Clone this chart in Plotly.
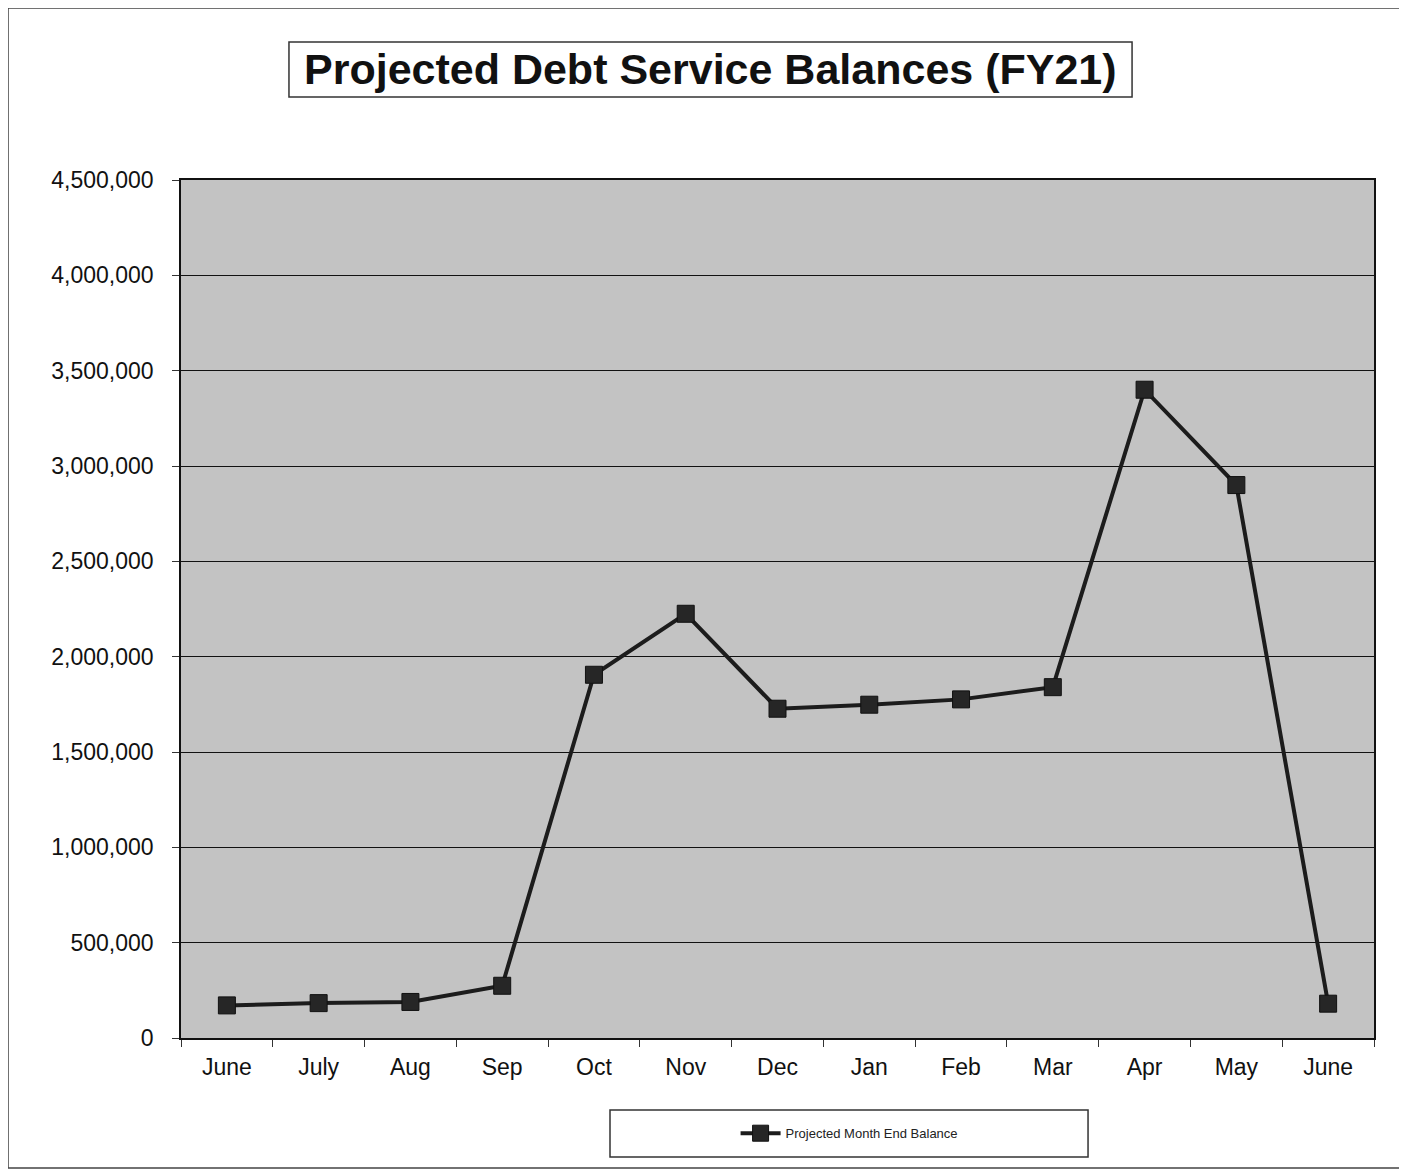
import plotly.graph_objects as go

months = ["June", "July", "Aug", "Sep", "Oct", "Nov", "Dec", "Jan", "Feb", "Mar", "Apr", "May", "June"]
balances = [171000, 183000, 189000, 274000, 1905000, 2225000, 1727000, 1748000, 1776000, 1840000, 3400000, 2900000, 180000]
y_ticks = [0, 500000, 1000000, 1500000, 2000000, 2500000, 3000000, 3500000, 4000000, 4500000]
series_name = "Projected Month End Balance"
title_text = "Projected Debt Service Balances (FY21)"

x_pos = list(range(len(months)))

fig = go.Figure()
fig.add_trace(go.Scatter(
    x=x_pos, y=balances, mode="lines+markers", name=series_name,
    line=dict(color="#1c1c1c", width=4),
    marker=dict(symbol="square", size=17, color="#262626", line=dict(color="#111", width=1)),
))

font_family = "Liberation Sans, Arial, sans-serif"

fig.update_layout(
    width=1399, height=1165,
    margin=dict(l=173, r=33, t=172, b=135),
    paper_bgcolor="white",
    plot_bgcolor="#c3c3c3",
    font=dict(family=font_family, color="#111"),
    showlegend=True,
    legend=dict(
        x=0.56, y=-0.111, xanchor="center", yanchor="middle",
        orientation="h", bgcolor="rgba(0,0,0,0)",
        font=dict(size=13, family=font_family, color="#222"),
        itemwidth=40,
    ),
    xaxis=dict(
        range=[-0.5, len(months) - 0.5],
        tickvals=x_pos, ticktext=months,
        ticks="", showgrid=False, zeroline=False,
        showline=True, linecolor="#111", linewidth=1.5, mirror=True,
        tickfont=dict(size=23, family=font_family, color="#111"),
        ticklabelstandoff=8,
        minor=dict(tickvals=[i - 0.5 for i in range(len(months) + 1)], ticks="outside",
                   ticklen=7, tickcolor="#333", showgrid=False),
    ),
    yaxis=dict(
        range=[0, 4500000],
        tickvals=y_ticks, tickformat=",d",
        ticks="outside", ticklen=7, tickcolor="#333",
        showgrid=True, gridcolor="#111", gridwidth=1,
        zeroline=False,
        showline=True, linecolor="#111", linewidth=1.5, mirror=True,
        tickfont=dict(size=23, family=font_family, color="#111"),
        ticklabelstandoff=14,
    ),
)

# Outer chart frame
fig.add_shape(type="rect", xref="paper", yref="paper",
              x0=-0.145, x1=1.0218, y0=-0.1515, y1=1.2005,
              line=dict(color="#444", width=1.5), fillcolor="rgba(0,0,0,0)", layer="below")
# Title box
fig.add_shape(type="rect", xref="paper", yref="paper",
              x0=0.0905, x1=0.7972, y0=1.0967, y1=1.1608,
              line=dict(color="#333", width=1.5), fillcolor="white")
fig.add_annotation(xref="paper", yref="paper", x=0.4438, y=1.1288,
                   text="<b>" + title_text + "</b>", showarrow=False,
                   font=dict(size=43, family=font_family, color="#111"),
                   xanchor="center", yanchor="middle")
# Legend box
fig.add_shape(type="rect", xref="paper", yref="paper",
              x0=0.3596, x1=0.7603, y0=-0.1387, y1=-0.0839,
              line=dict(color="#333", width=1.5), fillcolor="white")

fig.write_html("out.html")
